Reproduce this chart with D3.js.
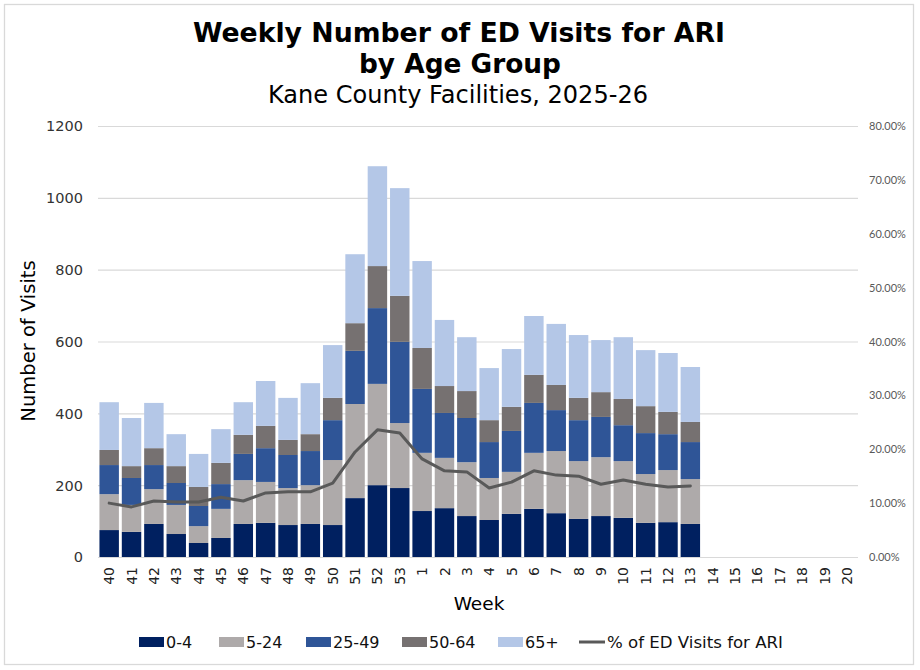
<!DOCTYPE html>
<html>
<head>
<meta charset="utf-8">
<script src="https://cdn.jsdelivr.net/npm/d3@7/dist/d3.min.js"></script>
<style>
  html, body { margin: 0; padding: 0; background: #fff; }
  svg { display: block; }
</style>
</head>
<body>
<svg id="chart" width="920" height="670"></svg>
<script>
// ---- Data ----
const weeks = ["40","41","42","43","44","45","46","47","48","49","50","51","52","53",
  "1","2","3","4","5","6","7","8","9","10","11","12","13","14","15","16","17","18","19","20"];

const age0_4  = [75,70,92,64,39,53,92,95,89,92,89,164,200,192,128,136,114,103,120,134,122,106,114,109,95,97,92];
const age5_24 = [100,75,97,81,47,81,122,114,103,108,181,262,282,181,162,140,150,117,117,156,173,161,164,158,136,145,125];
const age25_49 = [81,75,67,61,56,69,73,94,92,95,111,148,211,226,178,125,123,100,114,139,114,114,112,100,114,100,103];
const age50_64 = [42,33,47,47,53,59,53,62,42,47,62,77,117,128,114,75,75,61,67,78,70,62,69,73,75,62,56];
const age65p  = [133,134,126,89,92,94,91,125,117,142,147,192,278,300,242,184,150,145,161,164,170,175,145,172,156,164,153];
const pctARI  = [10.0,9.3,10.4,10.2,10.2,11.1,10.4,11.9,12.1,12.1,13.7,19.5,23.6,23.0,18.2,16.0,15.8,12.8,13.9,16.0,15.2,15.0,13.5,14.3,13.5,13.0,13.2];

const seriesNames = ["0-4","5-24","25-49","50-64","65+"];
const seriesValues = [age0_4, age5_24, age25_49, age50_64, age65p];
const seriesColors = ["#002060","#AEAAAA","#2F5597","#767171","#B4C7E7"];
const lineName = "% of ED Visits for ARI";
const leftTicks = [0,200,400,600,800,1000,1200];
const rightTicks = [0,10,20,30,40,50,60,70,80];

// ---- Build table ----
const table = weeks.map((w, i) => {
  const row = { week: w };
  seriesNames.forEach((s, j) => { row[s] = seriesValues[j][i] != null ? seriesValues[j][i] : 0; });
  row.pct = pctARI[i] != null ? pctARI[i] : null;
  return row;
});

const svg = d3.select("#chart");
const plot = { left: 98, right: 858, top: 126, bottom: 557 };

// border
svg.append("rect").attr("x", 4.5).attr("y", 4.5).attr("width", 909).attr("height", 660)
  .attr("fill", "#fff").attr("stroke", "#D9D9D9").attr("stroke-width", 1.3);

// scales
const x = d3.scaleBand().domain(weeks).range([plot.left, plot.right]).paddingInner(0.13).paddingOuter(0.065);
const y = d3.scaleLinear().domain([0, 1200]).range([plot.bottom, plot.top]);
const y2 = d3.scaleLinear().domain([0, 80]).range([plot.bottom, plot.top]);

const fam = "DejaVu Sans, Verdana, sans-serif";

// gridlines + left axis
const leftAxis = d3.axisLeft(y).tickValues(leftTicks).tickSize(-(plot.right - plot.left)).tickPadding(15).tickFormat(d3.format("d"));
const gL = svg.append("g").attr("transform", `translate(${plot.left},0)`).call(leftAxis);
gL.select(".domain").remove();
gL.selectAll(".tick line").attr("stroke", "#D9D9D9").attr("stroke-width", 1.2);
gL.selectAll(".tick text").attr("font-family", fam).attr("font-size", "14.5px").attr("fill", "#333").attr("dy", "0.34em");

// right axis
const rightAxis = d3.axisRight(y2).tickValues(rightTicks).tickSize(0).tickPadding(11).tickFormat(d => d.toFixed(2) + "%");
const gR = svg.append("g").attr("transform", `translate(${plot.right},0)`).call(rightAxis);
gR.select(".domain").remove();
gR.selectAll(".tick text").attr("font-family", "Lato, sans-serif").attr("font-size", "11px").attr("fill", "#595959");

// stacked bars
const stacked = d3.stack().keys(seriesNames)(table);
svg.append("g").selectAll("g").data(stacked).join("g")
  .attr("fill", (d, i) => seriesColors[i])
  .selectAll("rect").data(d => d.filter(p => p[1] - p[0] > 0)).join("rect")
  .attr("x", d => x(d.data.week))
  .attr("width", x.bandwidth())
  .attr("y", d => y(d[1]))
  .attr("height", d => y(d[0]) - y(d[1]));

// x axis
const xAxis = d3.axisBottom(x).tickSize(0).tickPadding(0);
const gX = svg.append("g").attr("transform", `translate(0,${plot.bottom})`).call(xAxis);
gX.select(".domain").remove();
gX.selectAll(".tick text")
  .attr("font-family", fam).attr("font-size", "14px").attr("fill", "#222")
  .attr("text-anchor", "end").attr("transform", "rotate(-90)")
  .attr("x", -10).attr("y", 0).attr("dy", "0.36em");

// line
const lineData = table.filter(d => d.pct != null);
const line = d3.line().x(d => x(d.week) + x.bandwidth() / 2).y(d => y2(d.pct));
svg.append("path").datum(lineData).attr("d", line)
  .attr("fill", "none").attr("stroke", "#595959").attr("stroke-width", 3)
  .attr("stroke-linejoin", "round").attr("stroke-linecap", "round");

// titles
svg.append("text").attr("x", 459).attr("y", 42).attr("text-anchor", "middle")
  .attr("font-family", fam).attr("font-weight", "bold").attr("font-size", "26.5px")
  .attr("textLength", 532).attr("lengthAdjust", "spacingAndGlyphs").attr("fill", "#000")
  .text("Weekly Number of ED Visits for ARI");
svg.append("text").attr("x", 460).attr("y", 73).attr("text-anchor", "middle")
  .attr("font-family", fam).attr("font-weight", "bold").attr("font-size", "26.5px")
  .attr("textLength", 202).attr("lengthAdjust", "spacingAndGlyphs").attr("fill", "#000")
  .text("by Age Group");
svg.append("text").attr("x", 458).attr("y", 103).attr("text-anchor", "middle")
  .attr("font-family", fam).attr("font-size", "24px")
  .attr("textLength", 380).attr("lengthAdjust", "spacingAndGlyphs").attr("fill", "#000")
  .text("Kane County Facilities, 2025-26");

// axis titles
svg.append("text").attr("transform", "translate(35,341) rotate(-90)").attr("text-anchor", "middle")
  .attr("font-family", fam).attr("font-size", "19.5px").attr("fill", "#000").text("Number of Visits");
svg.append("text").attr("x", 479).attr("y", 610).attr("text-anchor", "middle")
  .attr("font-family", fam).attr("font-size", "18.5px").attr("fill", "#000").text("Week");

// legend
const legX = [139, 219, 306, 402, 498];
const lg = svg.append("g");
seriesNames.forEach((s, i) => {
  lg.append("rect").attr("x", legX[i]).attr("y", 637).attr("width", 25).attr("height", 10).attr("fill", seriesColors[i]);
  lg.append("text").attr("x", legX[i] + 27).attr("y", 642).attr("dy", "0.36em")
    .attr("font-family", fam).attr("font-size", "16px").attr("fill", "#111").text(s);
});
lg.append("line").attr("x1", 579).attr("x2", 605).attr("y1", 642).attr("y2", 642)
  .attr("stroke", "#595959").attr("stroke-width", 3);
lg.append("text").attr("x", 607).attr("y", 642).attr("dy", "0.36em")
  .attr("font-family", fam).attr("font-size", "16px").attr("fill", "#111")
  .attr("textLength", 176).attr("lengthAdjust", "spacingAndGlyphs").text(lineName);
</script>
</body>
</html>
